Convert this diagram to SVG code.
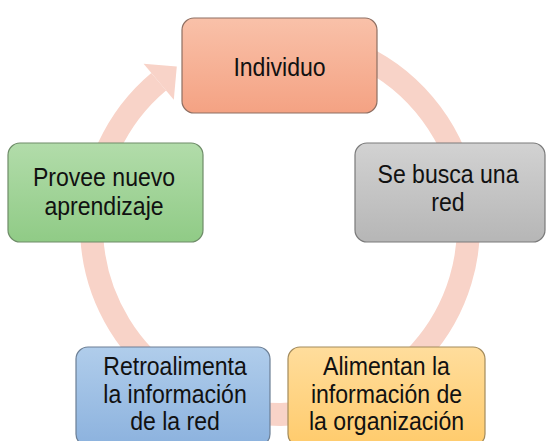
<svg xmlns="http://www.w3.org/2000/svg" width="546" height="441" viewBox="0 0 546 441">
<defs>
<linearGradient id="gOrange" x1="0" y1="0" x2="0" y2="1"><stop offset="0" stop-color="#F9C1A9"/><stop offset="1" stop-color="#F4A283"/></linearGradient>
<linearGradient id="gGray" x1="0" y1="0" x2="0" y2="1"><stop offset="0" stop-color="#D2D2D2"/><stop offset="1" stop-color="#B6B6B6"/></linearGradient>
<linearGradient id="gYellow" x1="0" y1="0" x2="0" y2="1"><stop offset="0" stop-color="#FFDD9C"/><stop offset="1" stop-color="#FFCB6C"/></linearGradient>
<linearGradient id="gBlue" x1="0" y1="0" x2="0" y2="1"><stop offset="0" stop-color="#B0CDEB"/><stop offset="1" stop-color="#8CB2DE"/></linearGradient>
<linearGradient id="gGreen" x1="0" y1="0" x2="0" y2="1"><stop offset="0" stop-color="#B2DCAA"/><stop offset="1" stop-color="#90CB86"/></linearGradient>
</defs>
<style>
.ring{fill:none;stroke:#F8D3C8;stroke-width:23;stroke-linecap:butt}
.head{fill:#F8D3C8}
.box{stroke-width:1.2}
.lbl{font-family:"Liberation Sans",Arial,sans-serif;font-size:26.5px;fill:#111;text-anchor:middle}
</style>
<rect width="546" height="441" fill="#FFFFFF"/>
<g id="connectors">
<path class="ring" d="M280 37.5 A188.5 188.5 0 1 1 158.7 81.7"/>
<polygon class="head" points="143.6,63.7 176.8,66.5 173.8,99.7"/>
</g>
<g id="node-individuo">
<rect class="box" x="182" y="18" width="195" height="95" rx="12" fill="url(#gOrange)" stroke="#8E6F62"/>
<text class="lbl" transform="translate(279.5,0) scale(0.87,1)" x="0" y="76.5">Individuo</text>
</g>
<g id="node-busca">
<rect class="box" x="355" y="143" width="190" height="99" rx="12" fill="url(#gGray)" stroke="#7A7A7A"/>
<text class="lbl" transform="translate(448,0) scale(0.87,1)" x="0" y="183">Se busca una<tspan x="0" dy="28.5">red</tspan></text>
</g>
<g id="node-alimentan">
<rect class="box" x="288" y="347" width="197" height="99" rx="12" fill="url(#gYellow)" stroke="#A38B5C"/>
<text class="lbl" transform="translate(386.5,0) scale(0.87,1)" x="0" y="375.5">Alimentan la<tspan x="0" dy="27.5">información de</tspan><tspan x="0" dy="27.5">la organización</tspan></text>
</g>
<g id="node-retro">
<rect class="box" x="76" y="347" width="194" height="99" rx="12" fill="url(#gBlue)" stroke="#6C7F95"/>
<text class="lbl" transform="translate(175,0) scale(0.87,1)" x="0" y="375.5">Retroalimenta<tspan x="0" dy="27.5">la información</tspan><tspan x="0" dy="27.5">de la red</tspan></text>
</g>
<g id="node-provee">
<rect class="box" x="8" y="143" width="195" height="99" rx="12" fill="url(#gGreen)" stroke="#6E8C68"/>
<text class="lbl" transform="translate(104,0) scale(0.87,1)" x="0" y="186.5">Provee nuevo<tspan x="0" dy="28.5">aprendizaje</tspan></text>
</g>
</svg>
